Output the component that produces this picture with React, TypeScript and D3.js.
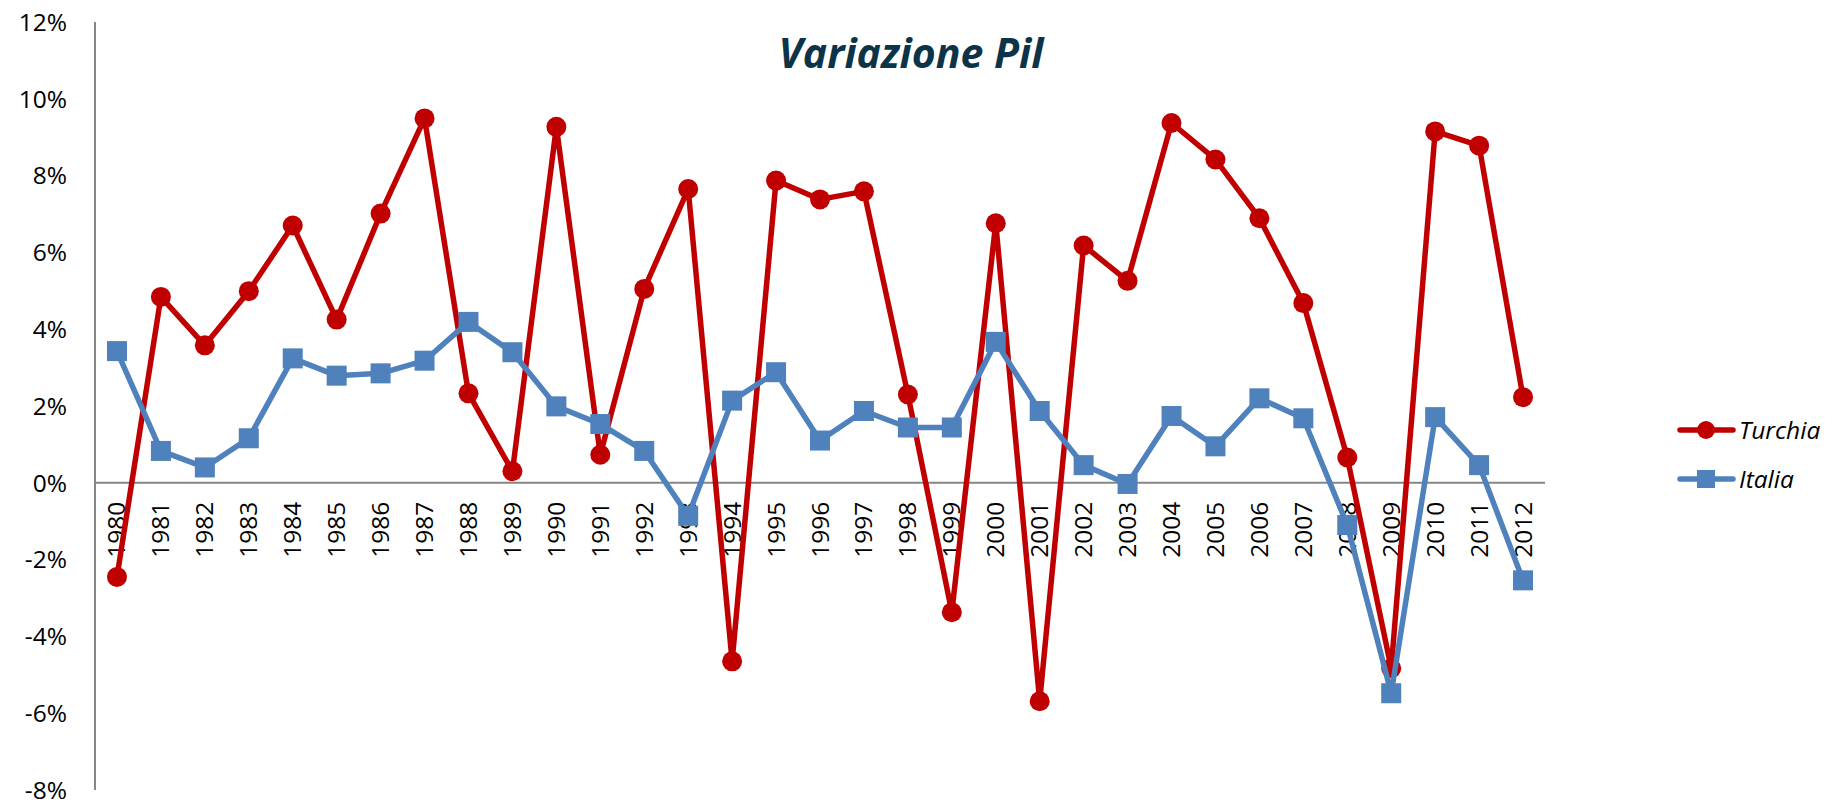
import React from "react";
import * as d3 from "d3";

const years = [
  "1980","1981","1982","1983","1984","1985","1986","1987","1988","1989",
  "1990","1991","1992","1993","1994","1995","1996","1997","1998","1999",
  "2000","2001","2002","2003","2004","2005","2006","2007","2008","2009",
  "2010","2011","2012",
];
const turchia = [
  -2.45, 4.84, 3.58, 4.99, 6.7, 4.25, 7.01, 9.49, 2.33, 0.3,
  9.27, 0.73, 5.05, 7.65, -4.65, 7.87, 7.38, 7.59, 2.3, -3.37,
  6.76, -5.69, 6.18, 5.26, 9.37, 8.42, 6.89, 4.68, 0.66, -4.83,
  9.15, 8.78, 2.23,
];
const italia = [
  3.43, 0.83, 0.4, 1.16, 3.24, 2.79, 2.85, 3.18, 4.19, 3.4,
  1.99, 1.53, 0.83, -0.86, 2.14, 2.88, 1.1, 1.87, 1.44, 1.44,
  3.67, 1.87, 0.46, -0.03, 1.74, 0.95, 2.2, 1.68, -1.1, -5.48,
  1.71, 0.46, -2.54,
];
const yTicks = [-8, -6, -4, -2, 0, 2, 4, 6, 8, 10, 12];

const W = 1843;
const H = 811;
const FONT = "'Open Sans', sans-serif";
const RED = "#C00000";
const BLUE = "#4F81BD";
const AXIS = "#868686";

export default function App() {
  const x = d3.scaleBand<string>().domain(years).range([95, 1545]);
  const y = d3.scaleLinear().domain([-8, 12]).range([790, 22]);
  const cx = (yr: string) => (x(yr) as number) + x.bandwidth() / 2;
  const line = d3
    .line<number>()
    .x((_, i) => cx(years[i]))
    .y((d) => y(d));

  return (
    <svg
      width={W}
      height={H}
      style={{ position: "absolute", left: 0, top: 0, background: "#fff" }}
    >
      <rect x={0} y={0} width={W} height={H} fill="#fff" />
      <text
        x={911}
        y={68}
        textAnchor="middle"
        fontFamily={FONT}
        fontWeight="bold"
        fontStyle="italic"
        fontSize={41}
        fill="#0B3449"
      >
        Variazione Pil
      </text>
      {/* axes */}
      <line x1={95} x2={95} y1={y(12)} y2={y(-8)} stroke={AXIS} strokeWidth={2} />
      <line x1={95} x2={1545} y1={y(0)} y2={y(0)} stroke={AXIS} strokeWidth={2} />
      {yTicks.map((t) => (
        <text
          key={t}
          x={67}
          y={y(t)}
          dy="0.36em"
          textAnchor="end"
          fontFamily={FONT}
          fontSize={24.5}
          fill="#000"
        >
          {t + "%"}
        </text>
      ))}
      {years.map((yr) => (
        <text
          key={yr}
          transform={`translate(${cx(yr) + 8.5},${y(0) + 19}) rotate(-90)`}
          textAnchor="end"
          fontFamily={FONT}
          fontSize={24.5}
          fill="#000"
        >
          {yr}
        </text>
      ))}
      {/* Turchia */}
      <path d={line(turchia) || ""} fill="none" stroke={RED} strokeWidth={5.5} strokeLinejoin="round" />
      {turchia.map((v, i) => (
        <circle key={"t" + i} cx={cx(years[i])} cy={y(v)} r={10} fill={RED} />
      ))}
      {/* Italia */}
      <path d={line(italia) || ""} fill="none" stroke={BLUE} strokeWidth={5.5} strokeLinejoin="round" />
      {italia.map((v, i) => (
        <rect key={"i" + i} x={cx(years[i]) - 10} y={y(v) - 10} width={20} height={20} fill={BLUE} />
      ))}
      {/* legend */}
      <line x1={1680} x2={1733} y1={430} y2={430} stroke={RED} strokeWidth={5.5} strokeLinecap="round" />
      <circle cx={1706} cy={430} r={9} fill={RED} />
      <text x={1739} y={430} dy="0.35em" fontFamily={FONT} fontStyle="italic" fontSize={24.5} fill="#000">
        Turchia
      </text>
      <line x1={1680} x2={1733} y1={479} y2={479} stroke={BLUE} strokeWidth={5.5} strokeLinecap="round" />
      <rect x={1697} y={470} width={18} height={18} fill={BLUE} />
      <text x={1739} y={479} dy="0.35em" fontFamily={FONT} fontStyle="italic" fontSize={24.5} fill="#000">
        Italia
      </text>
    </svg>
  );
}
